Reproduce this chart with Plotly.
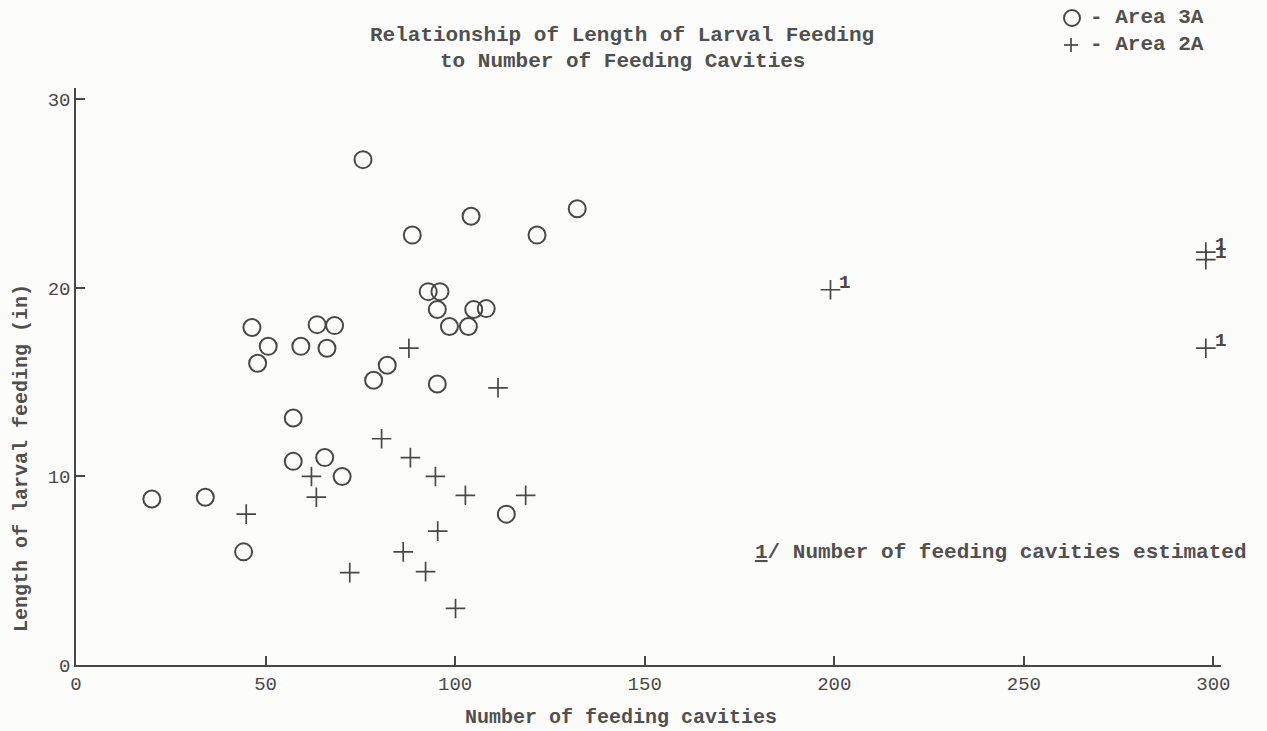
import plotly.graph_objects as go

# ---- data ----
area3a_x = [20.0, 34.1, 44.2, 46.4, 47.9, 50.7, 59.3, 57.3, 57.3, 65.6,
            63.6, 68.2, 66.2, 70.2, 75.7, 78.5, 82.1, 88.7, 92.9, 96.0,
            95.3, 95.3, 98.5, 103.5, 104.9, 108.2, 104.2, 113.5, 121.6, 132.2]
area3a_y = [8.8, 8.9, 6.0, 17.9, 16.0, 16.9, 16.9, 13.1, 10.8, 11.0,
            18.05, 18.0, 16.8, 10.0, 26.8, 15.1, 15.9, 22.8, 19.8, 19.8,
            18.85, 14.9, 17.95, 17.95, 18.85, 18.9, 23.8, 8.0, 22.8, 24.2]

area2a_x = [87.8, 111.3, 80.6, 88.2, 62.1, 94.8, 63.4, 102.7, 118.6, 44.9,
            95.4, 86.3, 72.2, 92.2, 100.1]
area2a_y = [16.8, 14.7, 12.0, 11.0, 10.0, 10.0, 8.9, 9.0, 9.0, 8.0,
            7.1, 6.0, 4.9, 4.95, 3.0]

# Area 2A points whose number of cavities was estimated (footnote 1/)
est_x = [199, 298, 298, 298]
est_y = [19.9, 21.9, 21.5, 16.8]
est_labels = ["1", "1", "1", "1"]

x_ticks = [0, 50, 100, 150, 200, 250, 300]
y_ticks = [0, 10, 20, 30]

title_lines = ["Relationship of Length of Larval Feeding",
               "to Number of Feeding Cavities"]
legend_names = ["Area 3A", "Area 2A"]
x_title = "Number of feeding cavities"
y_title = "Length of larval feeding (in)"
footnote = "<u>1</u>/ Number of feeding cavities estimated"

FONT = "Liberation Mono, Courier New, monospace"
INK = "#484848"
TXT = "#505050"
BG = "#fcfcfa"

W, H = 1267, 731
ML, MR, MT, MB = 76, 46, 88, 66
PW, PH = W - ML - MR, H - MT - MB


def px(x):
    return (x - ML) / PW


def py(y):
    return (H - MB - y) / PH


fig = go.Figure()

fig.add_trace(go.Scatter(
    x=area3a_x, y=area3a_y, mode="markers", name="Area 3A",
    marker=dict(symbol="circle-open", size=17, color=INK,
                line=dict(width=2, color=INK)),
))
fig.add_trace(go.Scatter(
    x=area2a_x, y=area2a_y, mode="markers", name="Area 2A",
    marker=dict(symbol="cross-thin-open", size=14, color=INK,
                line=dict(width=1.7, color=INK)),
))
fig.add_trace(go.Scatter(
    x=est_x, y=est_y, mode="markers", showlegend=False,
    name="Area 2A (estimated)",
    marker=dict(symbol="cross-thin-open", size=14, color=INK,
                line=dict(width=1.7, color=INK)),
))

ann = []
# footnote markers "1" beside the estimated points
for xv, yv, lab in zip(est_x, est_y, est_labels):
    ann.append(dict(x=xv, y=yv, xref="x", yref="y", text="<b>" + lab + "</b>",
                    showarrow=False, xanchor="left", yanchor="middle",
                    xshift=7, yshift=7,
                    font=dict(family=FONT, size=19, color=INK)))
title_y = [35, 62]
for t, yy in zip(title_lines, title_y):
    ann.append(dict(xref="paper", yref="paper", x=px(622), y=py(yy),
                    xanchor="center", yanchor="middle", showarrow=False,
                    text="<b>" + t + "</b>",
                    font=dict(family=FONT, size=21, color=TXT)))
legend_y = [18, 45]
for t, yy in zip(legend_names, legend_y):
    ann.append(dict(xref="paper", yref="paper", x=px(1206), y=py(yy),
                    xanchor="right", yanchor="middle", showarrow=False,
                    text="<b>- " + t + "</b>",
                    font=dict(family=FONT, size=21, color=TXT)))
ann.append(dict(xref="paper", yref="paper", x=px(621), y=py(717),
                xanchor="center", yanchor="middle", showarrow=False,
                text="<b>" + x_title + "</b>",
                font=dict(family=FONT, size=20, color=TXT)))
ann.append(dict(xref="paper", yref="paper", x=px(22), y=py(458),
                xanchor="center", yanchor="middle", showarrow=False,
                textangle=-90, text="<b>" + y_title + "</b>",
                font=dict(family=FONT, size=20, color=TXT)))
ann.append(dict(xref="paper", yref="paper", x=px(753), y=py(552),
                xanchor="left", yanchor="middle", showarrow=False,
                text="<b>" + footnote + "</b>",
                font=dict(family=FONT, size=21, color=TXT)))

# legend key symbols (circle and plus) drawn at fixed pixel size
shapes = [
    dict(type="circle", xref="paper", yref="paper",
         xsizemode="pixel", ysizemode="pixel",
         xanchor=px(1072), yanchor=py(legend_y[0]),
         x0=-8, x1=8, y0=-8, y1=8,
         line=dict(color=INK, width=2)),
    dict(type="line", xref="paper", yref="paper",
         xsizemode="pixel", ysizemode="pixel",
         xanchor=px(1071), yanchor=py(legend_y[1]),
         x0=-7, x1=7, y0=0, y1=0, line=dict(color=INK, width=1.7)),
    dict(type="line", xref="paper", yref="paper",
         xsizemode="pixel", ysizemode="pixel",
         xanchor=px(1071), yanchor=py(legend_y[1]),
         x0=0, x1=0, y0=-7, y1=7, line=dict(color=INK, width=1.7)),
]

fig.update_layout(
    width=W, height=H,
    paper_bgcolor=BG, plot_bgcolor=BG,
    margin=dict(l=ML, r=MR, t=MT, b=MB),
    font=dict(family=FONT, color=INK, size=18),
    showlegend=False,
    xaxis=dict(
        range=[0, 302], tickvals=x_ticks, ticktext=[str(v) for v in x_ticks],
        showgrid=False, zeroline=False, showline=True, linecolor=INK,
        linewidth=1.5, ticks="inside", ticklen=9, tickcolor=INK, tickwidth=1.5,
        tickfont=dict(family=FONT, size=19, color=INK),
    ),
    yaxis=dict(
        range=[0, 30.6], tickvals=y_ticks, ticktext=[str(v) for v in y_ticks],
        showgrid=False, zeroline=False, showline=True, linecolor=INK,
        linewidth=1.5, ticks="inside", ticklen=9, tickcolor=INK, tickwidth=1.5,
        tickfont=dict(family=FONT, size=19, color=INK),
    ),
    annotations=ann,
    shapes=shapes,
)

fig.write_html("out.html")
